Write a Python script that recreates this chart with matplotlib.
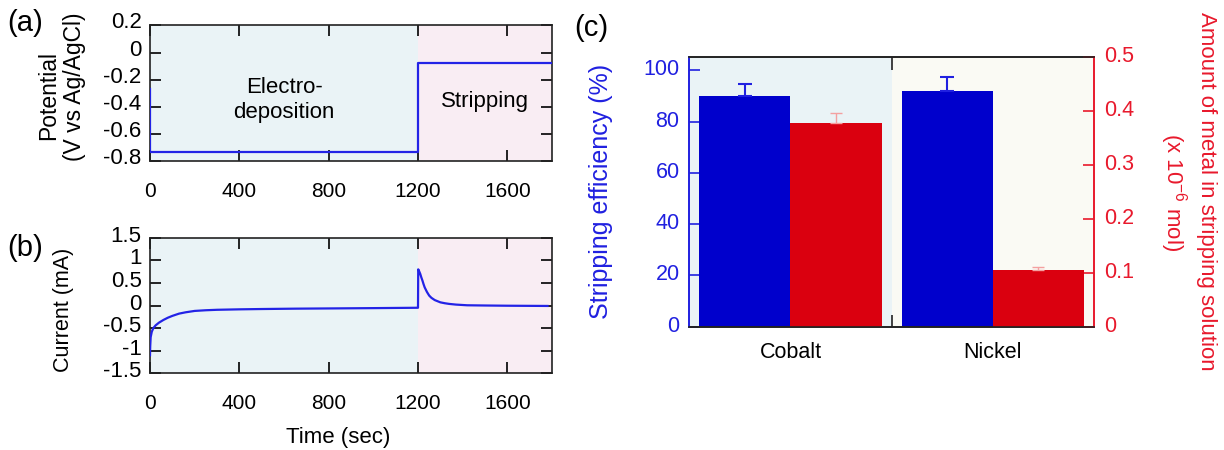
import matplotlib
matplotlib.use("Agg")
import matplotlib.pyplot as plt
import matplotlib.ticker as mticker
import matplotlib.transforms as mtrans
import numpy as np

plt.rcParams['font.family'] = ['Liberation Sans', 'DejaVu Sans']
plt.rcParams['axes.unicode_minus'] = False
plt.rcParams['mathtext.fontset'] = 'custom'
plt.rcParams['mathtext.rm'] = 'Liberation Sans'

# ---------------- data ----------------
# (a) applied potential programme
pot_time = [0, 0, 1200, 1200, 1795]
pot_value = [-0.27, -0.73, -0.73, -0.08, -0.08]

# (b) current transient
cur_time = [0, 1, 3, 8, 15, 25, 40, 60, 80, 100, 130, 160, 200, 250, 300, 400, 500,
            650, 800, 1000, 1199, 1200, 1201, 1205, 1210, 1215, 1220, 1225, 1230,
            1240, 1250, 1260, 1275, 1290, 1300, 1320, 1340, 1370, 1420, 1500, 1600, 1780]
cur_value = [-1.1, -0.9, -0.7, -0.58, -0.5, -0.44, -0.38, -0.32, -0.27, -0.23, -0.18,
             -0.15, -0.12, -0.105, -0.095, -0.085, -0.078, -0.07, -0.065, -0.058, -0.05,
             -0.05, 0.80, 0.76, 0.70, 0.62, 0.55, 0.47, 0.40, 0.30, 0.22, 0.17, 0.12,
             0.09, 0.07, 0.05, 0.035, 0.02, 0.005, 0.0, -0.005, -0.01]
time_ticks = [0, 400, 800, 1200, 1600]

# (c) stripping results
metals = ["Cobalt", "Nickel"]
efficiency = [89.8, 91.9]          # %
efficiency_err = [4.7, 5.5]
amount = [0.378, 0.105]            # x 1e-6 mol
amount_err = [0.017, 0.006]

# ---------------- style ----------------
BG_DEP = '#eaf3f6'
BG_STR = '#f9edf3'
BG_NI = '#fafaf4'
LINE_BLUE = '#2323e6'
BAR_BLUE = '#0000cc'
BAR_RED = '#da000f'
AX_BLUE = '#2020e0'
AX_RED = '#e8192c'
XTICK_FS = 15
YTICK_FS = 16
CTICK_FS = 15.5

fig = plt.figure(figsize=(12.24, 4.5), dpi=100)


def raise_yticklabels(ax, px):
    off = mtrans.ScaledTranslation(0, px / 100, fig.dpi_scale_trans)
    for lbl in ax.get_yticklabels():
        lbl.set_transform(lbl.get_transform() + off)


def style_time_axis(ax):
    ax.set_xlim(0, 1800)
    ax.set_xticks(time_ticks)
    ax.tick_params(axis='x', direction='in', top=True, bottom=True, length=8,
                   width=1.2, labelsize=XTICK_FS, pad=15)
    ax.tick_params(axis='y', direction='in', left=True, right=True, length=8,
                   width=1.2, labelsize=YTICK_FS, pad=6)
    for s in ax.spines.values():
        s.set_linewidth(1.2)
        s.set_color('#222222')
    ax.axvspan(0, 1200, color=BG_DEP, zorder=0, lw=0)
    ax.axvspan(1200, 1800, color=BG_STR, zorder=0, lw=0)

# (a)
axa = fig.add_axes([150/1224, 1-161/450, 402/1224, 135.6/450])
style_time_axis(axa)
axa.plot(pot_time, pot_value, color=LINE_BLUE, lw=1.6, zorder=3)
axa.set_ylim(-0.8, 0.2)
axa.set_yticks([0.2, 0, -0.2, -0.4, -0.6, -0.8])
axa.yaxis.set_major_formatter(mticker.FuncFormatter(lambda v, p: '%g' % round(v, 2)))
raise_yticklabels(axa, 5)
axa.text(-0.251, 0.48, 'Potential', rotation=90, ha='center', va='center',
         fontsize=16.5, transform=axa.transAxes)
axa.text(-0.189, 0.55, '(V vs Ag/AgCl)', rotation=90, ha='center', va='center',
         fontsize=16.5, transform=axa.transAxes)
axa.text(600, -0.35, 'Electro-\ndeposition', ha='center', va='center', fontsize=16,
         linespacing=1.2)
axa.text(1500, -0.36, 'Stripping', ha='center', va='center', fontsize=16)
fig.text(7/1224, 1-23/450, '(a)', fontsize=21, va='center', ha='left')

# (b)
axb = fig.add_axes([150/1224, 1-373.3/450, 402/1224, 135.6/450])
style_time_axis(axb)
axb.plot(cur_time, cur_value, color=LINE_BLUE, lw=1.6, zorder=3)
axb.set_ylim(-1.5, 1.5)
axb.set_yticks([1.5, 1, 0.5, 0, -0.5, -1, -1.5])
axb.yaxis.set_major_formatter(mticker.FuncFormatter(lambda v, p: '%g' % v))
raise_yticklabels(axb, 4)
axb.set_ylabel('Current (mA)', fontsize=15.5)
axb.yaxis.set_label_coords(-0.216, 0.47)
axb.yaxis.label.set_verticalalignment('center')
axb.set_xlabel('Time (sec)', fontsize=16)
axb.xaxis.set_label_coords(0.468, -0.475)
axb.xaxis.label.set_verticalalignment('center')
fig.text(7/1224, 1-248/450, '(b)', fontsize=21, va='center', ha='left')

# (c)
axc = fig.add_axes([689.3/1224, 1-326.5/450, 404.7/1224, 269.8/450])
axc2 = axc.twinx()
x = np.arange(len(metals))
w = 0.45
axc.axvspan(-0.5, 0.5, color=BG_DEP, zorder=0, lw=0)
axc.axvspan(0.5, 1.5, color=BG_NI, zorder=0, lw=0)
axc.bar(x - w/2, efficiency, width=w, color=BAR_BLUE, zorder=2)
axc.errorbar(x - w/2, efficiency, yerr=[[0]*len(x), efficiency_err], fmt='none',
             ecolor=AX_BLUE, elinewidth=1.5, capsize=5, capthick=1.5, zorder=3)
axc2.bar(x + w/2, amount, width=w, color=BAR_RED, zorder=2)
axc2.errorbar(x + w/2, amount, yerr=[[0]*len(x), amount_err], fmt='none',
              ecolor='#f4a0a0', elinewidth=1.0, capsize=4, capthick=1.0, zorder=3)
axc.set_xlim(-0.5, 1.5)
axc.set_ylim(0, 105.3)
axc2.set_ylim(0, 0.5)
axc.set_xticks(x)
axc.set_xticklabels(metals)
axc.set_xticks([0.5], minor=True)
axc.tick_params(axis='x', which='major', length=0, labelsize=CTICK_FS, pad=11)
axc.tick_params(axis='x', which='minor', direction='in', top=True, bottom=True,
                length=9, width=1.2, color='#222222')
axc.set_yticks([0, 20, 40, 60, 80, 100])
axc.tick_params(axis='y', direction='in', length=8, width=1.2, colors=AX_BLUE,
                labelsize=CTICK_FS, pad=7)
axc2.set_yticks([0, 0.1, 0.2, 0.3, 0.4, 0.5])
axc2.yaxis.set_major_formatter(mticker.FuncFormatter(lambda v, p: '%g' % round(v, 2)))
axc2.tick_params(axis='y', direction='in', length=8, width=1.2, colors=AX_RED,
                 labelsize=CTICK_FS, pad=7)
raise_yticklabels(axc, 3)
raise_yticklabels(axc2, 3)
for a in (axc, axc2):
    a.spines['top'].set_color('#222222')
    a.spines['bottom'].set_color('#222222')
    a.spines['left'].set_color(AX_BLUE)
    a.spines['right'].set_color(AX_RED)
    for s in a.spines.values():
        s.set_linewidth(1.2)
axc.set_ylabel('Stripping efficiency (%)', color=AX_BLUE, fontsize=18)
axc.yaxis.set_label_coords(-0.218, 0.5)
axc.yaxis.label.set_verticalalignment('center')
axc2.set_ylabel('Amount of metal in stripping solution\n(x 10$^{-6}$ mol)', color=AX_RED,
                fontsize=16, rotation=270, linespacing=1.35, multialignment='center')
axc2.yaxis.set_label_coords(1.231, 0.5)
axc2.yaxis.label.set_verticalalignment('center')
fig.text(574/1224, 1-28/450, '(c)', fontsize=21, va='center', ha='left')

fig.savefig('out.png', dpi=100)
